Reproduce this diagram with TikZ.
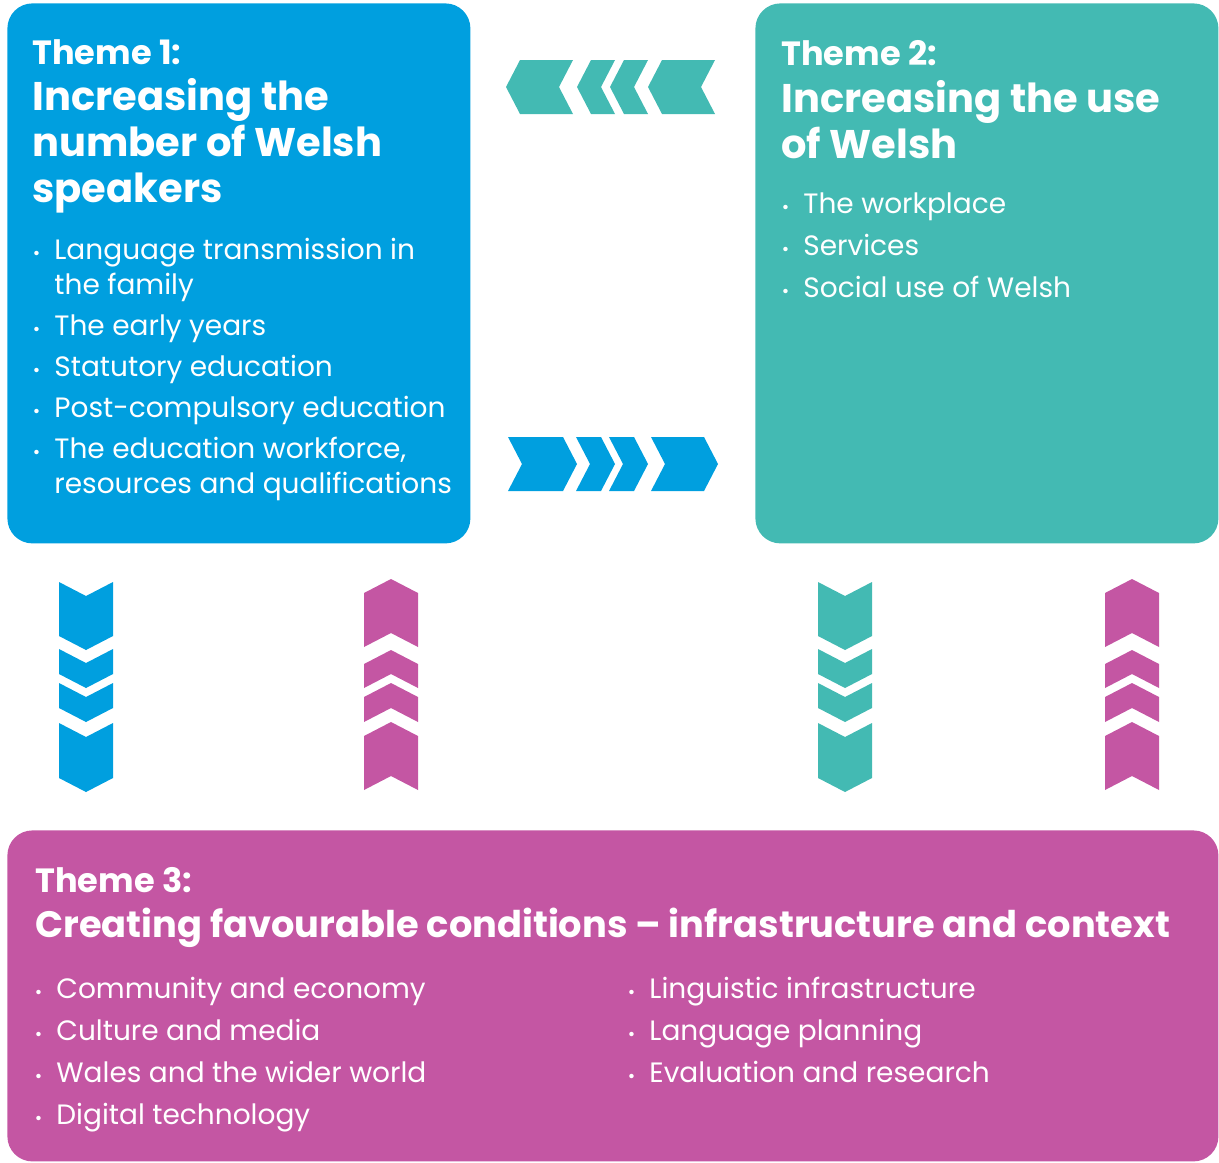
\documentclass[tikz,border=0pt]{standalone}
\usepackage{fontspec}
\setmainfont{Poppins}
\usetikzlibrary{positioning}
\definecolor{themeblue}{RGB}{0,159,223}
\definecolor{themeteal}{RGB}{67,186,179}
\definecolor{themepink}{RGB}{196,86,163}
\newcommand{\bul}{\llap{{\fontsize{9}{9}\selectfont\textbullet}\hspace{7pt}}}
\tikzset{themebox/.style={fill=#1, rounded corners=12.5pt, inner sep=0, anchor=north west}}
\tikzset{themelabel/.style={text=white, inner sep=0, anchor=base west, font=\bfseries\fontsize{16.8}{18}\selectfont}}
\tikzset{themetitle/.style={text=white, inner sep=0, anchor=base west, align=left, font=\bfseries\fontsize{20}{23}\selectfont}}
\tikzset{themelist/.style={text=white, inner sep=0, anchor=base west, align=left, font=\fontsize{14}{17.5}\selectfont}}
\tikzset{pics/chev/.style={code={
  \fill (0,-27) -- (#1-14,-27) -- (#1,0) -- (#1-14,27) -- (0,27) -- (14,0) -- cycle;}}}

\begin{document}
\begin{tikzpicture}[x=0.5pt, y=-0.5pt]
  \useasboundingbox (0,0) rectangle (1219,1162);

  % the three themes
  \node [themebox=themeblue, minimum width=231.5pt, minimum height=270pt] (theme1) at (7,3) {};
  \node [themebox=themeteal, minimum width=231.5pt, minimum height=270pt] (theme2) at (755,3) {};
  \node [themebox=themepink, minimum width=605.5pt, minimum height=165.5pt] (theme3) at (7,830) {};

  % (base of a multi-line node = its last line)
  \node [themelabel] (label1) at ([shift={(25,61)}]theme1.north west) {Theme 1:};
  \node [themetitle] (title1) at ([shift={(25,199)}]theme1.north west) {Increasing the\\number of Welsh\\speakers};
  \node [themelist] (list1) at ([shift={(47,490)}]theme1.north west)
    {\bul Language transmission in\\the family\\[3pt]
     \bul The early years\\[3pt]
     \bul Statutory education\\[3pt]
     \bul Post-compulsory education\\[3pt]
     \bul The education workforce,\\resources and qualifications};

  \node [themelabel] (label2) at ([shift={(26,62)}]theme2.north west) {Theme 2:};
  \node [themetitle] (title2) at ([shift={(26,155)}]theme2.north west) {Increasing the use\\of Welsh};
  \node [themelist] (list2) at ([shift={(48,294)}]theme2.north west)
    {\bul The workplace\\[3.5pt]
     \bul Services\\[3.5pt]
     \bul Social use of Welsh};

  \node [themelabel] (label3) at ([shift={(28,62)}]theme3.north west) {Theme 3:};
  \node [themetitle, font=\bfseries\fontsize{18.4}{22}\selectfont] (title3) at ([shift={(28,107)}]theme3.north west) {Creating favourable conditions – infrastructure and context};
  \node [themelist] (list3a) at ([shift={(49,294)}]theme3.north west)
    {\bul Community and economy\\[3.5pt]
     \bul Culture and media\\[3.5pt]
     \bul Wales and the wider world\\[3.5pt]
     \bul Digital technology};
  \node [themelist] (list3b) at ([shift={(642,252)}]theme3.north west)
    {\bul Linguistic infrastructure\\[3.5pt]
     \bul Language planning\\[3.5pt]
     \bul Evaluation and research};

  % chevrons between the themes
  \foreach \x/\len in {573/67, 615/38, 648/38, 715/67}
    \pic [themeteal, rotate=180] at (\x,87) {chev=\len};
  \foreach \x/\len in {508/69, 576/39, 609/39, 651/67}
    \pic [themeblue] at (\x,464) {chev=\len};
  \foreach \y/\len in {582/68, 649/39, 683/39, 723/69} {
    \pic [themeblue, rotate=-90] at (86,\y) {chev=\len};
    \pic [themeteal, rotate=-90] at (845,\y) {chev=\len};
  }
  \foreach \y/\len in {647/68, 688/38, 722/39, 790/68} {
    \pic [themepink, rotate=90] at (391,\y) {chev=\len};
    \pic [themepink, rotate=90] at (1132,\y) {chev=\len};
  }
\end{tikzpicture}
\end{document}
